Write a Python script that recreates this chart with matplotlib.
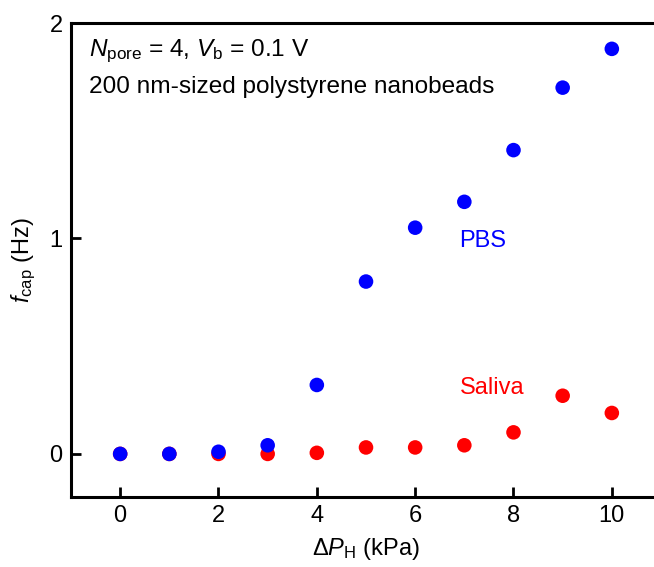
import matplotlib
matplotlib.use("Agg")
import matplotlib.pyplot as plt

plt.rcParams['font.family'] = ['Liberation Sans', 'DejaVu Sans']
plt.rcParams['mathtext.fontset'] = 'custom'
plt.rcParams['mathtext.rm'] = 'Liberation Sans'
plt.rcParams['mathtext.it'] = 'Liberation Sans:italic'

pressure = [0, 1, 2, 3, 4, 5, 6, 7, 8, 9, 10]
pbs = [0.0, 0.0, 0.01, 0.04, 0.32, 0.80, 1.05, 1.17, 1.41, 1.70, 1.88]
saliva = [0.0, 0.0, 0.0, 0.0, 0.005, 0.03, 0.03, 0.04, 0.10, 0.27, 0.19]

W, H = 654, 567
fig = plt.figure(figsize=(W / 100, H / 100), dpi=100)
x0, x1 = 71, 661
y0, y1 = 497, 23
ax = fig.add_axes([x0 / W, 1 - y0 / H, (x1 - x0) / W, (y0 - y1) / H])

ax.scatter(pressure, saliva, s=110, color='#ff0000', edgecolors='none', zorder=3, clip_on=False)
ax.scatter(pressure, pbs, s=110, color='#0000ff', edgecolors='none', zorder=4, clip_on=False)

fs = 17
ax.set_xlim(-1, 11)
ax.set_ylim(-0.2, 2)
ax.set_xticks([0, 2, 4, 6, 8, 10])
ax.set_yticks([0, 1, 2])
ax.spines['right'].set_visible(False)
for s in ['left', 'bottom', 'top']:
    ax.spines[s].set_linewidth(2.2)
ax.tick_params(direction='in', length=7, width=2, labelsize=fs, pad=6)

ax.set_xlabel(r'$\Delta\mathit{P}_{\mathrm{H}}$ (kPa)', fontsize=fs, labelpad=6)
ax.set_ylabel(r'$\mathit{f}_{\mathrm{cap}}$ (Hz)', fontsize=fs, labelpad=8)

ax.text(0.03, 0.94, r'$\mathit{N}_{\mathrm{pore}}$ = 4, $\mathit{V}_{\mathrm{b}}$ = 0.1 V',
        transform=ax.transAxes, fontsize=17.6, va='center', ha='left')
ax.text(0.03, 0.865, '200 nm-sized polystyrene nanobeads',
        transform=ax.transAxes, fontsize=17.6, va='center', ha='left')
ax.text(6.9, 0.99, 'PBS', color='#0000ff', fontsize=fs, va='center', ha='left')
ax.text(6.9, 0.305, 'Saliva', color='#ff0000', fontsize=fs, va='center', ha='left')

fig.savefig('out.png', dpi=100)
